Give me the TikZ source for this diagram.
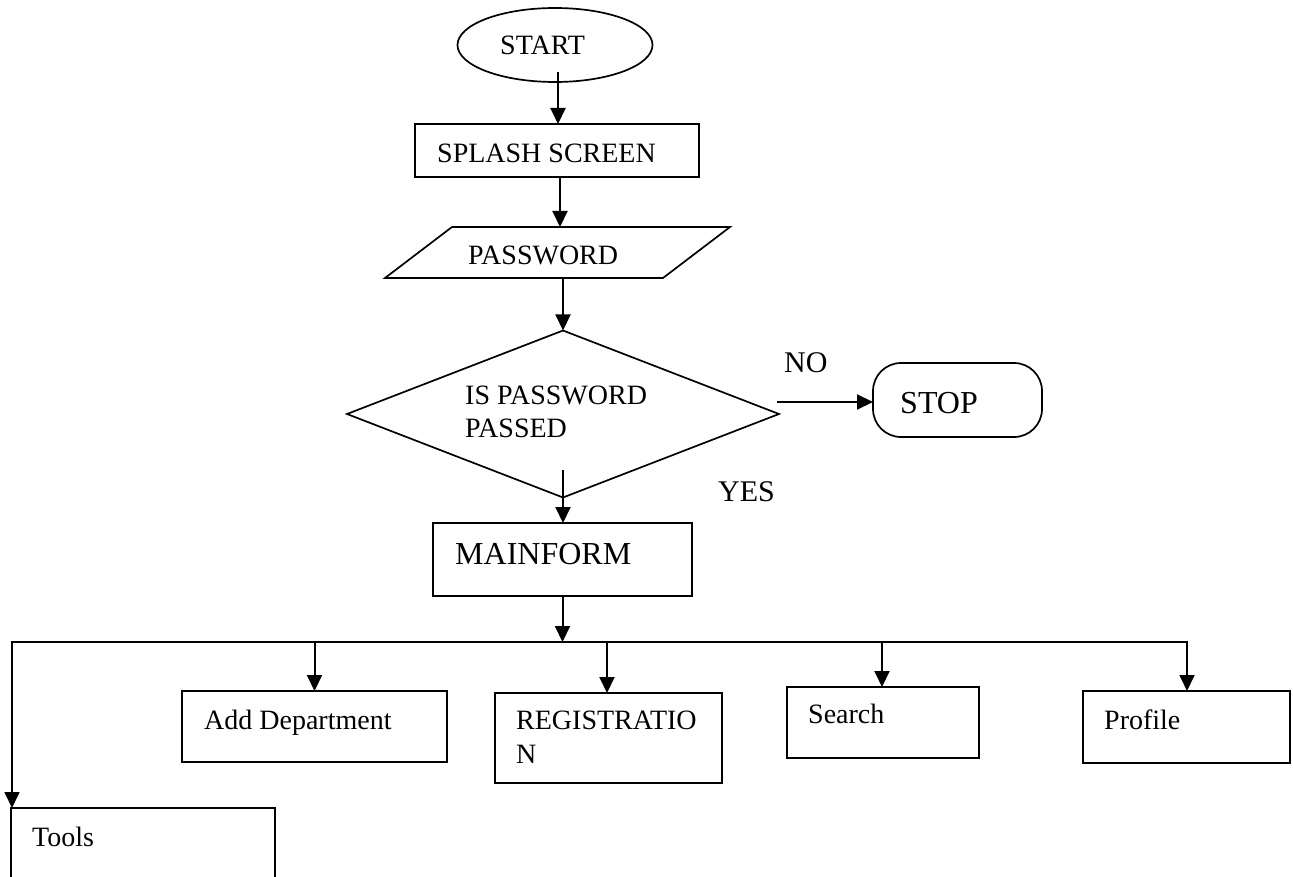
\documentclass[tikz,border=0pt]{standalone}
\usepackage{fontspec}
\setmainfont{Liberation Serif}
\usetikzlibrary{arrows.meta,shapes.geometric,calc}
\begin{document}
\begin{tikzpicture}[x=1pt,y=-1pt,
  boxline/.style={draw=black,line width=1.7pt,inner sep=0pt,outer sep=0pt},
  procbox/.style={boxline,rectangle},
  arr/.style={draw=black,line width=2pt,-{Triangle[length=16pt,width=15pt]}},
  txt/.style={inner sep=0pt,anchor=base west,font=\fontsize{28}{32}\selectfont},
  bigtxt/.style={inner sep=0pt,anchor=base west,font=\fontsize{32}{36}\selectfont},
  midtxt/.style={inner sep=0pt,anchor=base west,font=\fontsize{30}{34}\selectfont}]
\useasboundingbox (0,0) rectangle (1293,877);
\fill[white] (0,0) rectangle (1293,877);

% shapes
\node[boxline,ellipse,minimum width=195pt,minimum height=74pt] (start) at (555,45) {};
\node[procbox,minimum width=284pt,minimum height=53pt] (splash) at (557,150.5) {};
\coordinate (pwtop) at (560,227);
\coordinate (pwbot) at (563,278);
\draw[line width=1.7pt,line join=miter] (452,227) -- (730,227) -- (663,278) -- (385,278) -- cycle;
\node[boxline,diamond,minimum width=432pt,minimum height=167pt] (dec) at (563,414) {};
\node[boxline,rectangle,rounded corners=28pt,minimum width=169pt,minimum height=74pt] (stop) at (957.5,400) {};
\node[procbox,minimum width=259pt,minimum height=73pt] (main) at (562.5,559.5) {};
\node[procbox,minimum width=265pt,minimum height=71pt] (dept) at (314.5,726.5) {};
\node[procbox,minimum width=227pt,minimum height=90pt] (reg) at (608.5,738) {};
\node[procbox,minimum width=192pt,minimum height=71pt] (search) at (883,722.5) {};
\node[procbox,minimum width=207pt,minimum height=72pt] (profile) at (1186.5,727) {};
\node[procbox,minimum width=264pt,minimum height=100pt] (tools) at (143,858) {};

% texts
\node[txt] (tstart) at (500,55) {START};
\node[txt] (tsplash) at (437,163) {SPLASH SCREEN};
\node[txt] (tpw) at (468,265) {PASSWORD};
\node[txt] (tdec1) at (465,404) {IS PASSWORD};
\node[txt] (tdec2) at (465,437) {PASSED};
\node[midtxt] (tno) at (784,372) {NO};
\node[bigtxt] (tstop) at (900,413) {STOP};
\node[midtxt] (tyes) at (718,501) {YES};
\node[bigtxt] (tmain) at (455,564) {MAINFORM};
\node[txt] (tdept) at (204,729) {Add Department};
\node[txt] (treg1) at (516,729) {REGISTRATIO};
\node[txt] (treg2) at (516,763) {N};
\node[txt] (tsearch) at (808,723) {Search};
\node[txt] (tprofile) at (1104,729) {Profile};
\node[txt] (ttools) at (32,846) {Tools};

% connectors
\coordinate (a1) at (558,72);
\draw[arr] (a1) -- (a1 |- splash.north);
\draw[arr] (splash.south -| pwtop) -- (pwtop);
\draw[arr] (pwbot) -- (dec.north);
\coordinate (nostart) at (777,402);
\draw[arr] (nostart) -- (nostart -| stop.west);
\coordinate (yesstart) at (563,470);
\draw[arr] (yesstart) -- (yesstart |- main.north);
\coordinate (busL) at (12,642);
\coordinate (busR) at (1187,642);
\draw[arr] (main.south) -- (main.south |- busL);
\draw[line width=1.7pt,line join=miter,{Triangle[length=16pt,width=15pt]}-{Triangle[length=16pt,width=15pt]}]
  (busL |- tools.north) -- (busL) -- (busR) -- (busR |- profile.north);
\draw[arr] (dept.north |- busL) -- (dept.north);
\draw[arr] ([xshift=-1.5pt]reg.north |- busL) -- ([xshift=-1.5pt]reg.north);
\draw[arr] ([xshift=-1pt]search.north |- busL) -- ([xshift=-1pt]search.north);
\end{tikzpicture}
\end{document}
